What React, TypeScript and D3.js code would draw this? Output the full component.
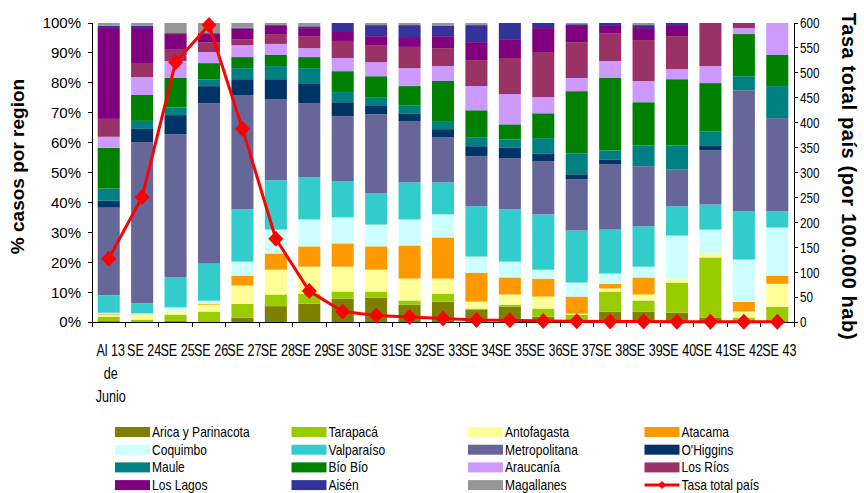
import React, { useEffect } from "react";
import * as d3 from "d3";

const categories = ["Al 13 de Junio", "SE 24", "SE 25", "SE 26", "SE 27", "SE 28", "SE 29", "SE 30", "SE 31", "SE 32", "SE 33", "SE 34", "SE 35", "SE 36", "SE 37", "SE 38", "SE 39", "SE 40", "SE 41", "SE 42", "SE 43"];

const regions = ["Arica y Parinacota", "Tarapacá", "Antofagasta", "Atacama", "Coquimbo", "Valparaíso", "Metropolitana", "O'Higgins", "Maule", "Bío Bío", "Araucanía", "Los Ríos", "Los Lagos", "Aisén", "Magallanes"];

const regionColors = ["#808000", "#99CC00", "#FFFF99", "#FF9900", "#CCFFFF", "#33CCCC", "#666699", "#003366", "#008080", "#008000", "#CC99FF", "#993366", "#800080", "#333399", "#969696"];

const arica = [0.3, 0.2, 0.3, 0, 1.5, 5.3, 6.1, 7.8, 8.2, 5.8, 6.8, 4.2, 5.1, 1.8, 0.5, 3.5, 3.5, 3.1, 1.5, 0, 0];
const tarapaca = [1.5, 0.6, 2.2, 3.5, 4.6, 3.9, 3.4, 2.4, 2.0, 1.4, 2.7, 0.3, 0.7, 2.7, 2.0, 6.7, 3.7, 10.1, 20.1, 1.5, 5.1];
const antofagasta = [0.5, 1.7, 1.1, 2.3, 6.1, 8.3, 9.0, 8.3, 7.3, 7.3, 5.0, 2.3, 3.4, 4.0, 0.3, 1.0, 2.0, 1.3, 1.3, 2.0, 7.7];
const atacama = [0.3, 0.1, 0, 0.3, 3.3, 5.4, 6.8, 7.8, 7.8, 11.1, 13.8, 9.7, 5.7, 6.0, 5.7, 1.6, 5.7, 0, 0, 3.3, 2.7];
const coquimbo = [0.5, 0.3, 1.3, 1.0, 4.7, 8.0, 9.0, 8.7, 7.3, 8.7, 7.7, 5.4, 5.3, 3.0, 4.7, 3.4, 3.6, 14.4, 8.0, 14.1, 16.1];
const valparaiso = [5.9, 3.4, 10.1, 12.4, 17.5, 16.5, 14.1, 12.0, 10.4, 12.4, 10.7, 16.8, 17.5, 18.5, 17.4, 14.7, 13.5, 9.8, 8.4, 16.1, 5.4];
const metropolitana = [29.4, 54.0, 47.8, 53.6, 38.2, 27.1, 24.8, 21.8, 26.5, 20.5, 15.1, 16.7, 17.0, 17.7, 17.1, 21.8, 20.1, 12.4, 18.1, 40.5, 31.2];
const ohiggins = [2.3, 4.4, 6.4, 5.7, 5.3, 6.7, 6.4, 4.7, 3.0, 2.6, 2.7, 3.4, 3.7, 2.7, 1.7, 1.7, 0, 0, 1.7, 0, 0];
const maule = [4.1, 2.7, 2.6, 2.3, 3.7, 4.4, 5.3, 3.4, 2.7, 2.7, 2.7, 3.0, 2.7, 5.1, 7.0, 3.0, 7.0, 8.0, 4.7, 4.7, 10.7];
const biobio = [13.7, 8.7, 9.8, 5.4, 3.7, 3.7, 3.7, 7.0, 7.0, 6.4, 13.4, 9.0, 5.0, 8.3, 20.8, 24.2, 14.4, 22.1, 16.1, 14.1, 10.4];
const araucania = [3.7, 6.0, 5.7, 3.7, 4.0, 3.7, 3.0, 4.4, 4.7, 6.0, 5.0, 8.1, 10.1, 5.4, 4.4, 5.7, 7.1, 3.4, 5.7, 2.0, 10.7];
const losrios = [6.0, 4.7, 4.0, 3.3, 2.0, 3.3, 4.0, 5.7, 5.7, 7.1, 6.0, 8.7, 12.1, 15.1, 12.0, 9.3, 13.7, 11.0, 14.4, 1.7, 0];
const loslagos = [30.5, 11.7, 5.0, 2.7, 3.6, 2.7, 2.7, 3.3, 3.0, 3.3, 4.0, 6.0, 6.3, 8.0, 5.4, 2.7, 4.0, 3.4, 0, 0, 0];
const aisen = [0.8, 0.8, 0.3, 0.3, 0.2, 0.3, 0.6, 2.7, 3.7, 4.0, 3.4, 5.7, 5.4, 1.7, 0.6, 0.7, 1.0, 1.0, 0, 0, 0];
const magallanes = [0.9, 0.9, 3.4, 3.4, 1.6, 0.7, 1.1, 0, 0.7, 0.7, 1.0, 0.7, 0, 0, 0.4, 0, 0.7, 0, 0, 0, 0];

const tasaTotal = [127, 251, 521, 596, 388, 167, 62, 21, 13, 10, 7, 4, 3.5, 2, 1.5, 1, 0.8, 0.6, 0.5, 0.4, 0.3];

const leftTicks = [0, 0.1, 0.2, 0.3, 0.4, 0.5, 0.6, 0.7, 0.8, 0.9, 1];
const rightTicks = [0, 50, 100, 150, 200, 250, 300, 350, 400, 450, 500, 550, 600];

const seriesValues = [arica, tarapaca, antofagasta, atacama, coquimbo, valparaiso, metropolitana, ohiggins, maule, biobio, araucania, losrios, loslagos, aisen, magallanes];

const W = 864, H = 493;
const L = 92, R = 794, T = 23, B = 322;
const FONT = "'Liberation Sans', Arial, sans-serif";

function wrapLabel(s: string): string[] {
  const words = s.split(" ");
  const lines: string[] = [];
  let cur = "";
  for (const w of words) {
    const cand = cur ? cur + " " + w : w;
    if (cand.length <= 5 || !cur) cur = cand;
    else { lines.push(cur); cur = w; }
  }
  if (cur) lines.push(cur);
  return lines;
}

export default function App() {
  useEffect(() => { document.body.style.margin = "0"; }, []);

  const rows = categories.map((c, i) => {
    const o: any = { cat: c };
    regions.forEach((r, k) => { o[r] = seriesValues[k][i]; });
    return o;
  });
  const stacked = d3.stack<any>().keys(regions).offset(d3.stackOffsetExpand)(rows);

  const x = d3.scaleBand<string>().domain(categories).range([L, R]).paddingInner(0.34).paddingOuter(0.17);
  const y = d3.scaleLinear().domain([0, 1]).range([B, T]);
  const y2 = d3.scaleLinear().domain([0, 600]).range([B, T]);
  const step = x.step();
  const cx = (c: string) => (x(c) as number) + x.bandwidth() / 2;

  const line = d3.line<number>().x((_, i) => cx(categories[i])).y((d) => y2(d));
  const diamond = "M0,-8L7.5,0L0,8L-7.5,0Z";

  const legendItems = [...regions.map((r, k) => ({ name: r, color: regionColors[k], line: false })), { name: "Tasa total país", color: "#FF0000", line: true }];

  return (
    <svg width={W} height={H} style={{ display: "block", background: "#fff" }} fontFamily={FONT}>
      {stacked.map((s, k) => (
        <g key={regions[k]} fill={regionColors[k]}>
          {s.map((d, i) => {
            const h = y(d[0]) - y(d[1]);
            if (h <= 0) return null;
            return <rect key={i} x={x(categories[i])} y={y(d[1])} width={x.bandwidth()} height={h} />;
          })}
        </g>
      ))}

      {/* axes */}
      <g stroke="#000" strokeWidth={1} shapeRendering="crispEdges">
        <line x1={L} x2={L} y1={T} y2={B} />
        <line x1={R} x2={R} y1={T} y2={B} />
        <line x1={L} x2={R} y1={B} y2={B} />
        {leftTicks.map((t) => <line key={"l" + t} x1={L - 4} x2={L} y1={y(t)} y2={y(t)} />)}
        {rightTicks.map((t) => <line key={"r" + t} x1={R} x2={R + 4} y1={y2(t)} y2={y2(t)} />)}
        {d3.range(categories.length + 1).map((i) => <line key={"x" + i} x1={L + i * step} x2={L + i * step} y1={B} y2={B + 5} />)}
      </g>

      {leftTicks.map((t) => (
        <text key={"lt" + t} x={81} y={y(t)} dy="0.36em" textAnchor="end" fontSize={15} fill="#000">{Math.round(t * 100) + "%"}</text>
      ))}
      {rightTicks.map((t) => (
        <text key={"rt" + t} transform={`translate(${R + 6},${y2(t)}) scale(0.78,1)`} dy="0.36em" fontSize={15} fill="#000">{t}</text>
      ))}

      {categories.map((c) => {
        const lines = wrapLabel(c);
        return (
          <g key={"xl" + c} transform={`translate(${cx(c) + 2},${B + 34}) scale(0.74,1)`}>
            {lines.map((ln, j) => (
              <text key={j} y={j * 23} textAnchor="middle" fontSize={17} fill="#000">{ln}</text>
            ))}
          </g>
        );
      })}

      <text transform={`translate(24,${(T + B) / 2 - 6}) rotate(-90)`} textAnchor="middle" fontSize={19} fontWeight="bold" fill="#000">% casos por region</text>
      <text transform={`translate(842,${(T + B) / 2 + 4}) rotate(90)`} textAnchor="middle" fontSize={20} fontWeight="bold" letterSpacing={0.6} fill="#000">Tasa total país (por 100.000 hab)</text>

      {/* line */}
      <path d={line(tasaTotal) as string} fill="none" stroke="#FF0000" strokeWidth={3} />
      {tasaTotal.map((v, i) => (
        <path key={"m" + i} d={diamond} transform={`translate(${cx(categories[i])},${y2(v)})`} fill="#FF0000" />
      ))}

      {/* legend */}
      {legendItems.map((it, k) => {
        const col = k % 4, row = Math.floor(k / 4);
        const lx = 115 + col * 176.5;
        const ly = 432 + row * 17.7;
        return (
          <g key={"lg" + k}>
            {it.line ? (
              <g>
                <line x1={lx} x2={lx + 35} y1={ly} y2={ly} stroke="#FF0000" strokeWidth={3} />
                <path d="M0,-4L4,0L0,4L-4,0Z" transform={`translate(${lx + 17.5},${ly})`} fill="#FF0000" />
              </g>
            ) : (
              <rect x={lx} y={ly - 5} width={35} height={10} fill={it.color} />
            )}
            <text transform={`translate(${lx + 37},${ly}) scale(0.86,1)`} dy="0.36em" fontSize={14} fill="#000">{it.name}</text>
          </g>
        );
      })}
    </svg>
  );
}
